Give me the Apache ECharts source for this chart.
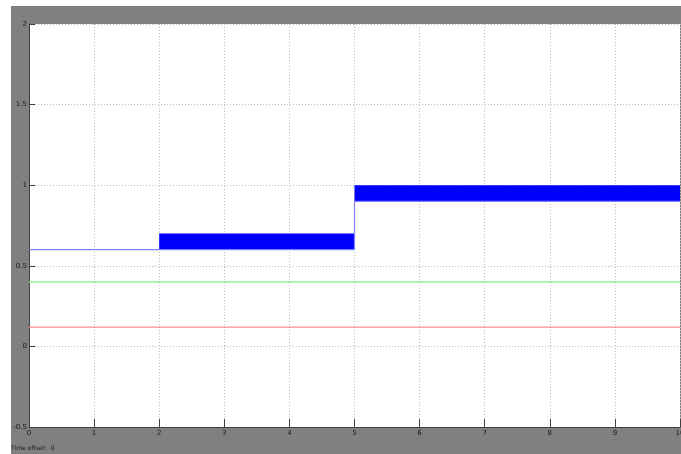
<!DOCTYPE html>
<html>
<head>
<meta charset="utf-8">
<script src="https://cdn.jsdelivr.net/npm/echarts@6/dist/echarts.min.js"></script>
<style>
html,body{margin:0;padding:0;background:#fff;}
#c{width:681px;height:454px;}
</style>
</head>
<body>
<div id="c"></div>
<script>
// Data
var xTicks = [0,1,2,3,4,5,6,7,8,9,10];
var yTicks = [-0.5,0,0.5,1,1.5,2];
var signalX = [0, 2, 5, 5, 10];
var signalY = [0.6, 0.6, 0.6, 0.9, 0.9];
var bandStart = [2, 5];
var bandEnd = [5, 10];
var bandLow = [0.6, 0.9];
var bandHigh = [0.7, 1.0];
var greenX = [0, 10];
var greenY = [0.4, 0.4];
var redX = [0, 10];
var redY = [0.12, 0.12];

var chart = echarts.init(document.getElementById('c'), null, {renderer:'canvas'});
function pairs(xs, ys){ return xs.map(function(x,i){return [x, ys[i]];}); }
var bandData = bandStart.map(function(s,i){return [s, bandEnd[i], bandLow[i], bandHigh[i]];});

chart.setOption({
  animation:false,
  backgroundColor:'#ffffff',
  graphic:[
    {type:'rect', z:-10, silent:true, shape:{x:11,y:6,width:670,height:448}, style:{fill:'#808080'}},
    {type:'text', left:11, top:445, z:10, style:{text:'Time offset:  0', fontSize:6, fill:'#1a1a1a', fontFamily:'DejaVu Sans'}}
  ],
  grid:{left:29, top:24, right:1, bottom:27, show:true, backgroundColor:'#ffffff', borderWidth:0, containLabel:false, outerBoundsMode:'none'},
  xAxis:{
    type:'value', min:xTicks[0], max:xTicks[xTicks.length-1], interval:1,
    axisLine:{show:true, onZero:false, lineStyle:{color:'#404040', width:1}},
    axisTick:{show:true, inside:true, length:8, lineStyle:{color:'#404040'}},
    axisLabel:{fontSize:7, color:'#1a1a1a', margin:3, fontFamily:'DejaVu Sans', showMaxLabel:true, hideOverlap:false},
    splitLine:{show:true, lineStyle:{color:'#bcbcbc', type:[1,2], width:1}}
  },
  yAxis:{
    type:'value', min:yTicks[0], max:yTicks[yTicks.length-1], interval:0.5,
    axisLine:{show:true, onZero:false, lineStyle:{color:'#404040', width:1}},
    axisTick:{show:true, inside:true, length:6, lineStyle:{color:'#404040'}},
    axisLabel:{fontSize:7, color:'#1a1a1a', margin:2, fontFamily:'DejaVu Sans'},
    splitLine:{show:true, lineStyle:{color:'#bcbcbc', type:[1,2], width:1}}
  },
  series:[
    {type:'line', data:pairs(redX, redY), symbol:'none', lineStyle:{color:'#ff8a8a', width:1.2}},
    {type:'line', data:pairs(greenX, greenY), symbol:'none', lineStyle:{color:'#7fef7f', width:1.2}},
    {type:'line', data:pairs(signalX, signalY), symbol:'none', lineStyle:{color:'#8080ff', width:1.2}},
    {type:'custom', data:bandData, clip:true,
      renderItem:function(params, api){
        var p1 = api.coord([api.value(0), api.value(3)]);
        var p2 = api.coord([api.value(1), api.value(2)]);
        return {type:'rect', shape:{x:p1[0], y:p1[1], width:p2[0]-p1[0], height:p2[1]-p1[1]}, style:{fill:'#0000ff'}};
      },
      encode:{x:[0,1], y:[2,3]}
    }
  ]
});
</script>
</body>
</html>
